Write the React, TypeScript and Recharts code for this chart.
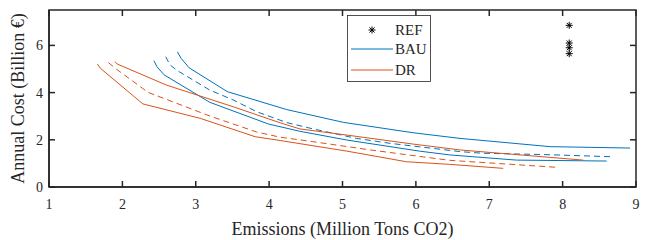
import React from 'react';
import { ComposedChart, Line, XAxis, YAxis } from 'recharts';

const xTicks = [1, 2, 3, 4, 5, 6, 7, 8, 9];
const yTicks = [0, 2, 4, 6];
const xDomain: [number, number] = [1, 9];
const yDomain: [number, number] = [0, 7.5];

// BAU curves (blue)
const bauHigh: [number, number][] = [
  [2.75, 5.73], [2.8, 5.45], [2.91, 5.05], [3.43, 4.04], [4.24, 3.28], [5.01, 2.74],
  [5.96, 2.3], [6.6, 2.06], [7.83, 1.71], [8.92, 1.65],
];
const bauMid: [number, number][] = [
  [2.59, 5.52], [2.65, 5.17], [2.75, 4.93], [3.19, 4.11], [3.51, 3.69], [3.83, 3.19],
  [4.24, 2.73], [4.56, 2.49], [5.19, 2.06], [5.65, 1.85], [6.6, 1.5], [6.91, 1.43],
  [7.8, 1.37], [8.69, 1.28],
];
const bauLow: [number, number][] = [
  [2.43, 5.35], [2.47, 5.1], [2.57, 4.75], [3.19, 3.59], [3.99, 2.67], [4.42, 2.36],
  [5.06, 1.99], [6.05, 1.52], [6.46, 1.36], [7.37, 1.14], [8.6, 1.1],
];

// DR curves (orange)
const drHigh: [number, number][] = [
  [1.9, 5.31], [1.93, 5.21], [2.6, 4.32], [3.51, 3.4], [4.15, 2.72], [4.42, 2.46],
  [5.06, 2.2], [5.96, 1.82], [6.6, 1.57], [8.28, 1.14],
];
const drMid: [number, number][] = [
  [1.81, 5.27], [1.92, 4.99], [2.35, 4.01], [3.19, 3.01], [3.83, 2.33], [4.15, 2.11],
  [4.6, 1.92], [5.38, 1.57], [6.46, 1.13], [7.94, 0.83],
];
const drLow: [number, number][] = [
  [1.66, 5.21], [1.7, 5.03], [2.28, 3.52], [3.06, 2.91], [3.81, 2.13], [4.15, 1.97],
  [5.06, 1.52], [5.87, 1.07], [6.46, 0.96], [7.19, 0.79],
];

// reference points
const refX = [8.09, 8.09, 8.09, 8.09];
const refY = [6.85, 6.1, 5.9, 5.65];

const BLUE = '#0072BD';
const ORANGE = '#D95319';
const AXIS = '#262626';
const FONT = '"Liberation Serif", "Times New Roman", serif';

// chart layout
const W = 651;
const H = 240;
const MARGIN = { top: 10, right: 15, bottom: 0, left: 0 };
const Y_AXIS_W = 49;
const X_AXIS_H = 53;
const PLOT_LEFT = MARGIN.left + Y_AXIS_W;
const PLOT_RIGHT = W - MARGIN.right;
const PLOT_TOP = MARGIN.top;
const PLOT_BOTTOM = H - MARGIN.bottom - X_AXIS_H;
const TICK_LEN = 6;

const toPoints = (arr: [number, number][]) => arr.map(([x, y]) => ({ x, y }));

const series = [
  { name: 'bauHigh', data: toPoints(bauHigh), color: BLUE, dashed: false },
  { name: 'bauMid', data: toPoints(bauMid), color: BLUE, dashed: true },
  { name: 'bauLow', data: toPoints(bauLow), color: BLUE, dashed: false },
  { name: 'drHigh', data: toPoints(drHigh), color: ORANGE, dashed: false },
  { name: 'drMid', data: toPoints(drMid), color: ORANGE, dashed: true },
  { name: 'drLow', data: toPoints(drLow), color: ORANGE, dashed: false },
];

const refData = refX.map((x, i) => ({ x, y: refY[i] }));

const Asterisk = (props: any) => {
  const { cx, cy } = props;
  if (cx == null || cy == null) return <g />;
  const r = 3.5;
  const d = r * 0.72;
  return (
    <g stroke="#000" strokeWidth={1}>
      <line x1={cx} y1={cy - r} x2={cx} y2={cy + r} />
      <line x1={cx - r} y1={cy} x2={cx + r} y2={cy} />
      <line x1={cx - d} y1={cy - d} x2={cx + d} y2={cy + d} />
      <line x1={cx - d} y1={cy + d} x2={cx + d} y2={cy - d} />
    </g>
  );
};

// tick positions for the MATLAB-style box (same linear mapping as the axes)
const tickX = (v: number) =>
  PLOT_LEFT + ((v - xDomain[0]) / (xDomain[1] - xDomain[0])) * (PLOT_RIGHT - PLOT_LEFT);
const tickY = (v: number) =>
  PLOT_BOTTOM - ((v - yDomain[0]) / (yDomain[1] - yDomain[0])) * (PLOT_BOTTOM - PLOT_TOP);

// frame, inward ticks, axis titles and legend box drawn over the chart
const Overlay = () => {
  const lx = 347;
  const ly = 15;
  const midX = (PLOT_LEFT + PLOT_RIGHT) / 2;
  const midY = (PLOT_TOP + PLOT_BOTTOM) / 2;
  return (
    <svg
      width={W}
      height={H}
      style={{ position: 'absolute', left: 0, top: 0, pointerEvents: 'none' }}
    >
      <g stroke={AXIS} strokeWidth={1.5} fill="none">
        <rect x={PLOT_LEFT} y={PLOT_TOP} width={PLOT_RIGHT - PLOT_LEFT} height={PLOT_BOTTOM - PLOT_TOP} />
        {xTicks.map((t) => (
          <g key={`x${t}`}>
            <line x1={tickX(t)} x2={tickX(t)} y1={PLOT_BOTTOM} y2={PLOT_BOTTOM - TICK_LEN} />
            <line x1={tickX(t)} x2={tickX(t)} y1={PLOT_TOP} y2={PLOT_TOP + TICK_LEN} />
          </g>
        ))}
        {yTicks.map((t) => (
          <g key={`y${t}`}>
            <line x1={PLOT_LEFT} x2={PLOT_LEFT + TICK_LEN} y1={tickY(t)} y2={tickY(t)} />
            <line x1={PLOT_RIGHT} x2={PLOT_RIGHT - TICK_LEN} y1={tickY(t)} y2={tickY(t)} />
          </g>
        ))}
      </g>
      <text x={midX} y={235} textAnchor="middle" fontFamily={FONT} fontSize={18} fill={AXIS}>
        Emissions (Million Tons CO2)
      </text>
      <text
        transform={`translate(18, ${midY}) rotate(-90)`}
        textAnchor="middle"
        dy="0.355em"
        fontFamily={FONT}
        fontSize={18}
        fill={AXIS}
      >
        Annual Cost (Billion €)
      </text>
      <g transform={`translate(${lx}, ${ly})`}>
        <rect x={0.5} y={0.5} width={83} height={66} fill="#fff" stroke={AXIS} strokeWidth={0.8} />
        <Asterisk cx={25} cy={15} />
        <text x={48} y={20} fontFamily={FONT} fontSize={15} fill={AXIS}>REF</text>
        <line x1={4} y1={34} x2={46} y2={34} stroke={BLUE} strokeWidth={1} />
        <text x={48} y={39} fontFamily={FONT} fontSize={15} fill={AXIS}>BAU</text>
        <line x1={4} y1={55} x2={46} y2={55} stroke={ORANGE} strokeWidth={1} />
        <text x={48} y={60} fontFamily={FONT} fontSize={15} fill={AXIS}>DR</text>
      </g>
    </svg>
  );
};

export default function App() {
  const tickStyle = { fontFamily: FONT, fontSize: 14, fill: AXIS };
  const axisLine = { stroke: AXIS, strokeWidth: 1.5 };
  return (
    <div style={{ position: 'absolute', left: 0, top: 0, width: W, height: H }}>
      <ComposedChart width={W} height={H} margin={MARGIN}>
        <XAxis
          xAxisId="main"
          dataKey="x"
          type="number"
          domain={xDomain}
          ticks={xTicks}
          height={X_AXIS_H}
          tickLine={false}
          tickMargin={6}
          axisLine={axisLine}
          tick={tickStyle}
        />
        <YAxis
          yAxisId="main"
          type="number"
          domain={yDomain}
          ticks={yTicks}
          width={Y_AXIS_W}
          tickLine={false}
          tickMargin={0}
          axisLine={axisLine}
          tick={tickStyle}
        />
        {series.map((s) => (
          <Line
            key={s.name}
            xAxisId="main"
            yAxisId="main"
            data={s.data}
            dataKey="y"
            type="linear"
            stroke={s.color}
            strokeWidth={1}
            strokeDasharray={s.dashed ? '6 4' : undefined}
            dot={false}
            activeDot={false}
            isAnimationActive={false}
          />
        ))}
        {/* REF points: markers only */}
        <Line
          xAxisId="main"
          yAxisId="main"
          data={refData}
          dataKey="y"
          stroke="none"
          dot={<Asterisk />}
          activeDot={false}
          isAnimationActive={false}
        />
      </ComposedChart>
      <Overlay />
    </div>
  );
}
